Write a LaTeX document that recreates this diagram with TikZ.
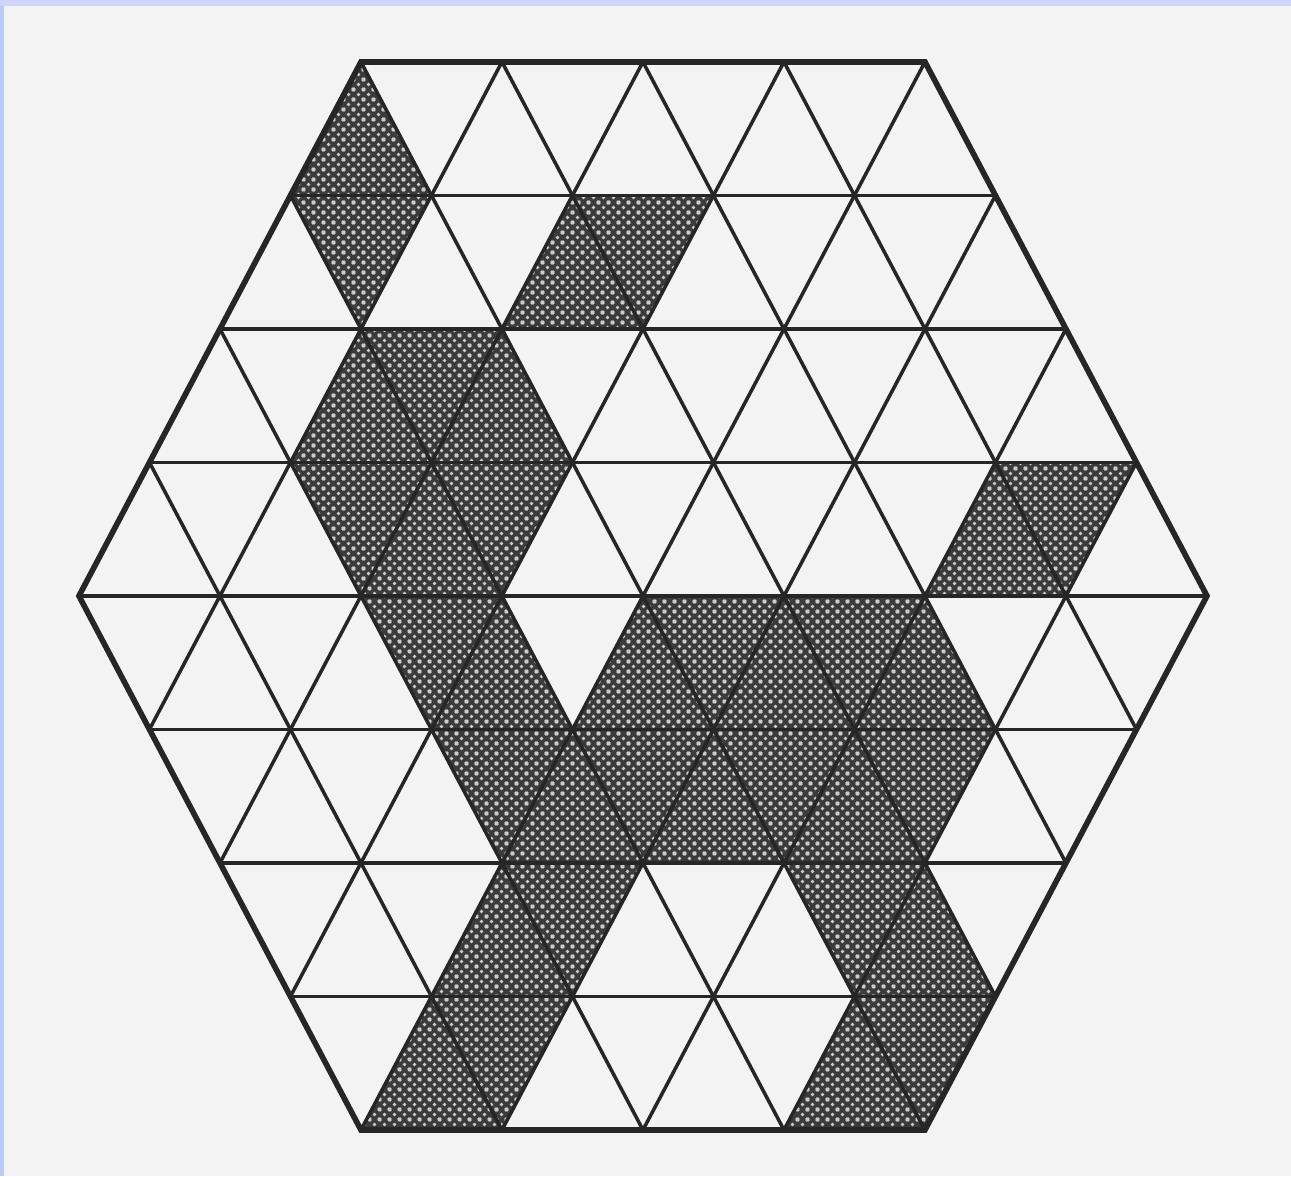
\documentclass[tikz,border=0pt]{standalone}
\usetikzlibrary{patterns.meta}
\definecolor{paper}{RGB}{243,243,243}
\definecolor{sideblue}{RGB}{184,204,244}
\definecolor{topblue}{RGB}{208,212,246}
\tikzdeclarepattern{
    name=halftone,
    bottom left={(0pt,0pt)},
    top right={(5.4pt,5.4pt)},
    tile size={(5.4pt,5.4pt)},
    code={
        \fill (0pt,0pt) circle (1.1pt);
        \fill (5.4pt,0pt) circle (1.1pt);
        \fill (0pt,5.4pt) circle (1.1pt);
        \fill (5.4pt,5.4pt) circle (1.1pt);
        \fill (2.7pt,2.7pt) circle (1.1pt);
    }
}
\begin{document}
\begin{tikzpicture}[x=2.82cm, y=2.67cm]
    \tikzset{
        cell/.style={fill=black!77, postaction={pattern=halftone, pattern color=black!20}},
        grid line/.style={line width=2pt, black!85},
        rim/.style={line width=3.2pt, black!85, line join=miter}
    }
    % 背景
    \useasboundingbox (-4.56,-4.345) rectangle (4.596,4.464);
    \fill[paper] (-4.56,-4.345) rectangle (4.596,4.464);
    \fill[sideblue] (-4.56,-4.345) rectangle (-4.532,4.464);
    \fill[topblue] (-4.56,4.419) rectangle (4.596,4.464);

    % 阴影：尖朝上的三角形
    \foreach \t/\y in {-2/4, -0.5/3, -2/2, -1/2, -1.5/1, 2.5/1, -1/0, 0/0, 1/0, 2/0,
                       -0.5/-1, 0.5/-1, 1.5/-1, -1/-2, 2/-2, -1.5/-3, 1.5/-3}
        \fill[cell] (\t,\y) -- ({\t-0.5},{\y-1}) -- ({\t+0.5},{\y-1}) -- cycle;
    % 阴影：尖朝下的三角形
    \foreach \t/\y in {-2.5/3, -0.5/3, -2/2, -2.5/1, -1.5/1, 2.5/1, -2/0, 0/0, 1/0,
                       -1.5/-1, -0.5/-1, 0.5/-1, 1.5/-1, -1/-2, 1/-2, -1.5/-3, 1.5/-3}
        \fill[cell] (\t,\y) -- ({\t+1},\y) -- ({\t+0.5},{\y-1}) -- cycle;

    % 三角网格
    \begin{scope}
        \clip (-2,4) -- (2,4) -- (4,0) -- (2,-4) -- (-2,-4) -- (-4,0) -- cycle;
        \foreach \k in {1,...,7}
            \draw[grid line] (-5,{\k-4}) -- (5,{\k-4});
        \foreach \c in {-3,...,3} {
            \draw[grid line] ({\c-2},4) -- ({\c+2},-4);
            \draw[grid line] ({\c+2},4) -- ({\c-2},-4);
        }
    \end{scope}

    % 六边形外框
    \draw[rim] (-2,4) -- (2,4) -- (4,0) -- (2,-4) -- (-2,-4) -- (-4,0) -- cycle;
\end{tikzpicture}
\end{document}
